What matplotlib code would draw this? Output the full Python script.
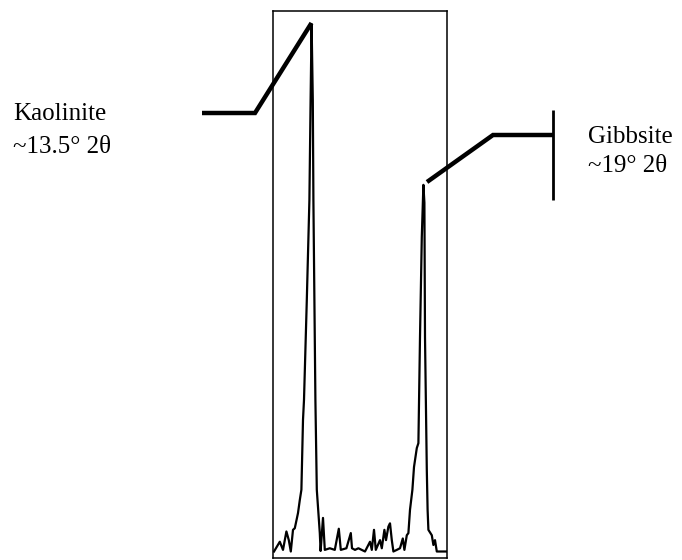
import matplotlib
matplotlib.use("Agg")
import matplotlib.pyplot as plt
from matplotlib.lines import Line2D

# XRD trace (2-theta in degrees, relative intensity)
two_theta = [11.55, 11.84, 12.0, 12.17, 12.29, 12.39, 12.5, 12.59, 12.75, 12.84,
             12.92, 13.0, 13.05, 13.19, 13.32, 13.38, 13.43, 13.49, 13.52, 13.57,
             13.62, 13.69, 13.84, 13.88, 14.0, 14.09, 14.34, 14.59, 14.79, 14.89,
             15.17, 15.39, 15.45, 15.6, 15.77, 16.1, 16.35, 16.44, 16.55, 16.64,
             16.85, 16.94, 17.07, 17.15, 17.27, 17.35, 17.44, 17.52, 17.69, 17.85,
             17.99, 18.07, 18.19, 18.27, 18.35, 18.47, 18.55, 18.69, 18.77, 18.85,
             18.94, 19.02, 19.07, 19.1, 19.19, 19.23, 19.27, 19.44, 19.52, 19.6,
             19.69, 20.0, 20.15]
intensity = [0.2, 2.0, 0.5, 3.9, 2.3, 0.2, 4.2, 4.5, 7.3, 9.7,
             11.6, 24.5, 28.2, 46.6, 65.1, 83.6, 97.6, 83.6, 65.1, 46.6,
             28.2, 11.6, 3.6, 0.3, 6.4, 0.5, 0.8, 0.5, 4.4, 0.5,
             0.8, 3.6, 0.8, 0.5, 0.8, 0.2, 2.0, 0.5, 4.2, 0.5,
             2.3, 0.8, 4.2, 2.3, 4.8, 5.4, 2.3, 0.2, 0.5, 0.8,
             2.6, 0.5, 3.2, 3.6, 7.9, 11.6, 15.8, 19.3, 20.2, 39.8,
             58.3, 67.9, 64.6, 39.8, 15.3, 7.9, 4.2, 3.2, 1.4, 2.3,
             0.2, 0.2, 0.2]

labels_left = ["Kaolinite", "~13.5° 2θ"]
labels_right = ["Gibbsite", "~19° 2θ"]

W, H = 682, 560
fig = plt.figure(figsize=(W / 100, H / 100), dpi=100)
fig.patch.set_facecolor("white")

def fx(px):
    return px / W

def fy(py):
    return 1 - py / H

ax_left, ax_right, ax_top, ax_bottom = 273, 447, 11, 558
ax = fig.add_axes([fx(ax_left), fy(ax_bottom), (ax_right - ax_left) / W,
                   (ax_bottom - ax_top) / H])
ax.plot(two_theta, intensity, color="black", lw=1.6)
ax.set_xlim(11.5, 20.2)
ax.set_ylim(-1, 100)
ax.set_xticks([])
ax.set_yticks([])
for s in ax.spines.values():
    s.set_linewidth(1.1)
    s.set_color("black")

# leader lines (layout, in figure pixels)
def pline(xs, ys, lw=3.2):
    fig.add_artist(Line2D([fx(x) for x in xs], [fy(y) for y in ys],
                          color="black", lw=lw, solid_joinstyle="miter",
                          solid_capstyle="butt"))

pline([202, 255, 311.5], [113, 113, 23])
pline([427, 493, 553], [182, 135, 135])
pline([553, 553], [110, 200], lw=2.0)

font = dict(family="Liberation Serif", fontsize=18, color="black")
fig.text(fx(13), fy(120), labels_left[0], va="baseline", ha="left", **font)
fig.text(fx(13), fy(153), labels_left[1], va="baseline", ha="left", **font)
fig.text(fx(588), fy(143), labels_right[0], va="baseline", ha="left", **font)
fig.text(fx(588), fy(172), labels_right[1], va="baseline", ha="left", **font)

fig.savefig("out.png", dpi=100)
